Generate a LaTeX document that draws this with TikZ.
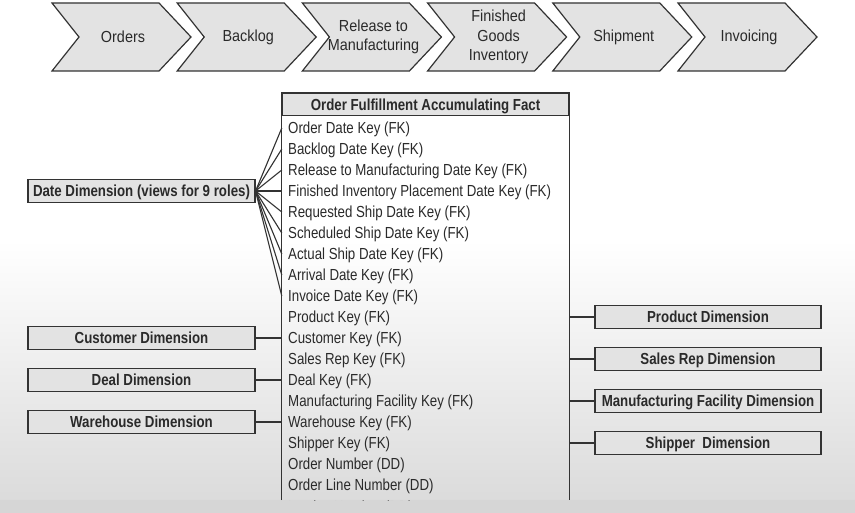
\documentclass[tikz,border=0pt]{standalone}
\usepackage{fontspec}
\setmainfont{Liberation Sans}
\newfontfamily\condf[FakeStretch=0.83]{Liberation Sans}
\newfontfamily\chevf[FakeStretch=0.9]{Liberation Sans}
\usetikzlibrary{calc}
\definecolor{edge}{HTML}{333333}
\definecolor{boxfill}{HTML}{E3E3E3}
\definecolor{txt}{HTML}{2A2A2A}
\begin{document}
\begin{tikzpicture}[x=1pt,y=-1pt,
  chev/.style={draw=edge, fill=boxfill, line width=1.2pt, line join=miter},
  chevtext/.style={font=\chevf\fontsize{16}{19.5}\selectfont, text=txt, align=center, inner sep=0pt},
  row/.style={anchor=west, font=\condf\fontsize{16}{19}\selectfont, text=txt, inner sep=0pt, text height=14.5pt, text depth=3pt},
  dimbox/.style={draw=edge, fill=boxfill, line width=1.1pt, minimum height=23pt, inner sep=0pt,
     text height=11.5pt, text depth=0pt, font=\condf\bfseries\fontsize{16}{18}\selectfont, text=txt},
  link/.style={draw=edge, line width=1.1pt}]
\useasboundingbox (0,0) rectangle (855,513);
\fill[white] (0,0) rectangle (855,513);
\shade[top color=white, bottom color=gray!28] (0,240) rectangle (855,500);
\fill[gray!32] (0,500) rectangle (855,513);

% process chevrons
\foreach \i/\t in {0/Orders, 1/Backlog, 2/{Release to\\Manufacturing}, 3/{Finished\\Goods\\Inventory}, 4/Shipment, 5/Invoicing}{
  \pgfmathsetmacro{\xo}{52+125.2*\i}
  \draw[chev] (\xo,3) -- ++(107,0) -- (\xo+139,37) -- (\xo+107,71) -- (\xo,71) -- (\xo+27,37) -- cycle;
  \node[chevtext] (c\i) at (\xo+71,37) {\t};
}

% fact table
\node[minimum width=287pt, minimum height=407pt, inner sep=0pt] (fact) at (425.5,296.5) {};
\draw[link] (fact.south west) -- (fact.north west) -- (fact.north east) -- (fact.south east);
\node[dimbox, minimum width=287pt, minimum height=22pt, anchor=north] (hdr) at (fact.north) {Order Fulfillment Accumulating Fact};

\foreach \i/\t in {0/Order Date Key (FK), 1/Backlog Date Key (FK), 2/Release to Manufacturing Date Key (FK),
  3/Finished Inventory Placement Date Key (FK), 4/Requested Ship Date Key (FK), 5/Scheduled Ship Date Key (FK),
  6/Actual Ship Date Key (FK), 7/Arrival Date Key (FK), 8/Invoice Date Key (FK), 9/Product Key (FK),
  10/Customer Key (FK), 11/Sales Rep Key (FK), 12/Deal Key (FK), 13/Manufacturing Facility Key (FK),
  14/Warehouse Key (FK), 15/Shipper Key (FK), 16/Order Number (DD), 17/Order Line Number (DD)}{
  \node[row] (r\i) at (288,128+21*\i) {\t};
}
\begin{scope}
  \clip (282,93) rectangle (569,500);
  \node[row] (r18) at (288,507) {Invoice Number (DD)};
\end{scope}

% date dimension with 9 role links
\node[dimbox, minimum width=227pt] (date) at (141.5,191) {Date Dimension (views for 9 roles)};
\foreach \i in {0,...,8}{
  \draw[link] (date.east) -- (r\i -| fact.west);
}

% left dimensions
\node[dimbox, minimum width=227pt] (cust) at (141.5,338) {Customer Dimension};
\node[dimbox, minimum width=227pt] (deal) at (141.5,380) {Deal Dimension};
\node[dimbox, minimum width=227pt] (wh) at (141.5,422) {Warehouse Dimension};
\draw[link] (cust.east) -- (r10 -| fact.west);
\draw[link] (deal.east) -- (r12 -| fact.west);
\draw[link] (wh.east) -- (r14 -| fact.west);

% right dimensions
\node[dimbox, minimum width=226pt] (prod) at (708,317) {Product Dimension};
\node[dimbox, minimum width=226pt] (srep) at (708,359) {Sales Rep Dimension};
\node[dimbox, minimum width=226pt] (mfac) at (708,401) {Manufacturing Facility Dimension};
\node[dimbox, minimum width=226pt] (ship) at (708,443) {Shipper\ \ Dimension};
\draw[link] (r9 -| fact.east) -- (prod.west);
\draw[link] (r11 -| fact.east) -- (srep.west);
\draw[link] (r13 -| fact.east) -- (mfac.west);
\draw[link] (r15 -| fact.east) -- (ship.west);
\end{tikzpicture}
\end{document}
